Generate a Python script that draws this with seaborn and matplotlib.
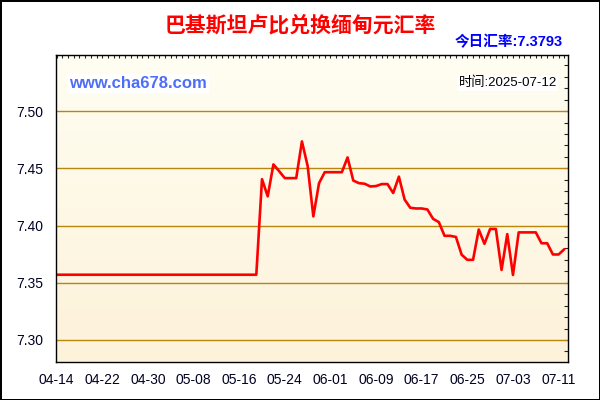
import matplotlib
matplotlib.use("Agg")
import matplotlib.pyplot as plt
import matplotlib.ticker as mticker
import matplotlib.dates as mdates
import numpy as np
import pandas as pd
import seaborn as sns

# ---------------- data ----------------
dates = [
    "2025-04-14", "2025-05-19", "2025-05-20", "2025-05-21", "2025-05-22", "2025-05-23",
    "2025-05-24", "2025-05-25", "2025-05-26", "2025-05-27", "2025-05-28", "2025-05-29",
    "2025-05-30", "2025-05-31", "2025-06-01", "2025-06-02", "2025-06-03", "2025-06-04",
    "2025-06-05", "2025-06-06", "2025-06-07", "2025-06-08", "2025-06-09", "2025-06-10",
    "2025-06-11", "2025-06-12", "2025-06-13", "2025-06-14", "2025-06-15", "2025-06-16",
    "2025-06-17", "2025-06-18", "2025-06-19", "2025-06-20", "2025-06-21", "2025-06-22",
    "2025-06-23", "2025-06-24", "2025-06-25", "2025-06-26", "2025-06-27", "2025-06-28",
    "2025-06-29", "2025-06-30", "2025-07-01", "2025-07-02", "2025-07-03", "2025-07-04",
    "2025-07-05", "2025-07-06", "2025-07-07", "2025-07-08", "2025-07-09", "2025-07-10",
    "2025-07-11", "2025-07-12",
]
rates = [
    7.3570, 7.3570, 7.4405, 7.4255, 7.4534, 7.4475,
    7.4414, 7.4414, 7.4414, 7.4735, 7.4520, 7.4080,
    7.4370, 7.4466, 7.4466, 7.4466, 7.4466, 7.4595,
    7.4393, 7.4370, 7.4365, 7.4341, 7.4345, 7.4362,
    7.4362, 7.4284, 7.4427, 7.4227, 7.4155, 7.4149,
    7.4149, 7.4140, 7.4058, 7.4030, 7.3910, 7.3910,
    7.3900, 7.3745, 7.3700, 7.3700, 7.3965, 7.3840,
    7.3970, 7.3970, 7.3612, 7.3925, 7.3568, 7.3940,
    7.3940, 7.3940, 7.3940, 7.3845, 7.3845, 7.3747,
    7.3747, 7.3793,
]
x_tick_dates = ["2025-04-14", "2025-04-22", "2025-04-30", "2025-05-08", "2025-05-16", "2025-05-24",
                "2025-06-01", "2025-06-09", "2025-06-17", "2025-06-25", "2025-07-03", "2025-07-11"]
x_tick_labels = ["04-14", "04-22", "04-30", "05-08", "05-16", "05-24",
                 "06-01", "06-09", "06-17", "06-25", "07-03", "07-11"]
y_ticks = [7.30, 7.35, 7.40, 7.45, 7.50]
y_tick_labels = ["7.30", "7.35", "7.40", "7.45", "7.50"]

title_text = "巴基斯坦卢比兑换缅甸元汇率"
today_text = "今日汇率:7.3793"
site_text = "www.cha678.com"
time_text = "时间:2025-07-12"

# ---------------- style ----------------
sns.set_style("white")
plt.rcParams["font.family"] = ["Liberation Sans", "Noto Sans CJK SC", "DejaVu Sans"]

df = pd.DataFrame({"date": pd.to_datetime(dates), "rate": rates})

fig = plt.figure(figsize=(6, 4), dpi=100)
fig.patch.set_facecolor("white")
fig.patch.set_edgecolor("black")
fig.patch.set_linewidth(2.0)

L, R, T, B = 55.7, 568.3, 55.0, 361.7
ax = fig.add_axes([L / 600, 1 - B / 400, (R - L) / 600, (B - T) / 400])

# gradient background
grad = np.linspace(0, 1, 256).reshape(-1, 1)
top_c = np.array([0xFF, 0xFE, 0xF2]) / 255.0
bot_c = np.array([0xFD, 0xF2, 0xDA]) / 255.0
img = top_c[None, None, :] * (1 - grad[:, :, None]) + bot_c[None, None, :] * grad[:, :, None]
ax.imshow(img, extent=[0, 1, 0, 1], transform=ax.transAxes, aspect="auto", zorder=0)

sns.lineplot(data=df, x="date", y="rate", ax=ax, color="#FF0000", linewidth=1.9, zorder=3)

start = pd.Timestamp("2025-04-14")
x0 = mdates.date2num(start)
ax.set_xlim(x0 - 0.17, x0 + 89.7)
ax.set_ylim(7.281, 7.549)

ax.xaxis.set_major_locator(mticker.FixedLocator(mdates.date2num(pd.to_datetime(x_tick_dates))))
ax.xaxis.set_major_formatter(mticker.FixedFormatter(x_tick_labels))
ax.xaxis.set_minor_locator(mticker.MultipleLocator(1))
ax.yaxis.set_major_locator(mticker.FixedLocator(y_ticks))
ax.yaxis.set_major_formatter(mticker.FixedFormatter(y_tick_labels))
ax.yaxis.set_minor_locator(mticker.MultipleLocator(0.01))

ax.set_xlabel("")
ax.set_ylabel("")
ax.grid(False)
for yv in y_ticks:
    ax.axhline(yv, color="#B8860B", linewidth=1.0, zorder=1)

ax.tick_params(which="both", direction="inout", length=4, width=0.8, color="black",
               top=False, right=False, labelsize=10, labelcolor="#000022")
ax.tick_params(axis="x", which="both", pad=6)
ax.tick_params(axis="y", which="both", pad=7)

for s in ax.spines.values():
    s.set_color("black")
    s.set_linewidth(1.0)
    s.set_zorder(4)

# inward ticks on top and right
secx = ax.secondary_xaxis("top")
secx.xaxis.set_minor_locator(mticker.MultipleLocator(1))
secx.xaxis.set_major_locator(mticker.MultipleLocator(1))
secx.tick_params(which="both", direction="in", length=2.5, width=0.8, labeltop=False)
secx.spines["top"].set_visible(False)
secy = ax.secondary_yaxis("right")
secy.yaxis.set_major_locator(mticker.FixedLocator(y_ticks))
secy.yaxis.set_minor_locator(mticker.MultipleLocator(0.01))
secy.tick_params(which="both", direction="in", length=3, width=0.8, labelright=False)
secy.spines["right"].set_visible(False)

# texts
fig.text(0.5, 1 - 25 / 400, title_text, ha="center", va="center", color="#FF0000",
         fontsize=15, fontweight="bold", family=["Noto Sans CJK SC", "DejaVu Sans"])
fig.text(563 / 600, 1 - 42 / 400, today_text, ha="right", va="center", color="#0000FF",
         fontsize=10.5, fontweight="bold", family=["Liberation Sans", "Noto Sans CJK SC"])
fig.text(69 / 600, 1 - 83 / 400, site_text, ha="left", va="center", color="#4F6EF7",
         fontsize=12, fontweight="bold", family=["Liberation Sans"],
         bbox=dict(facecolor="white", edgecolor="none", pad=1.5), zorder=5)
fig.text(557 / 600, 1 - 83 / 400, time_text, ha="right", va="center", color="black",
         fontsize=9.5, family=["Liberation Sans", "Noto Sans CJK SC"],
         bbox=dict(facecolor="white", edgecolor="none", pad=1.0), zorder=5)

fig.savefig("out.png", dpi=100)
